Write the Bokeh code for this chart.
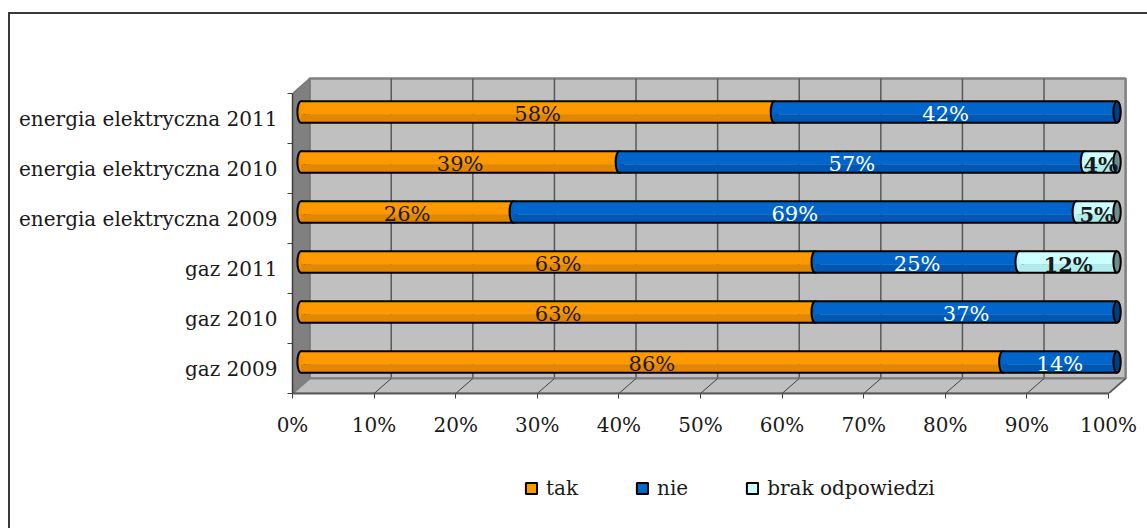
from bokeh.plotting import figure
from bokeh.layouts import column
from bokeh.models import Range1d, FixedTicker, Legend, LegendItem
from bokeh.embed import file_html
from bokeh.resources import INLINE
from bokeh.core.properties import value

# categories listed bottom-up
categories = ["gaz 2009", "gaz 2010", "gaz 2011",
              "energia elektryczna 2009", "energia elektryczna 2010",
              "energia elektryczna 2011"]
tak = [86, 63, 63, 26, 39, 58]
nie = [14, 37, 25, 69, 57, 42]
brak = [0, 0, 12, 5, 4, 0]
series_names = ["tak", "nie", "brak odpowiedzi"]
x_ticks = [0, 10, 20, 30, 40, 50, 60, 70, 80, 90, 100]
x_tick_labels = ["0%", "10%", "20%", "30%", "40%", "50%", "60%", "70%", "80%", "90%", "100%"]

FONT = "DejaVu Serif"
# pseudo-3D depth of the chart box (x in %, y in category units)
DX, DY = 2.1, 0.3
HX, HY = DX / 2, 0.13      # bars sit half way into the box
BH = 0.43                  # bar thickness
EW = 0.9                   # width of the elliptic bar ends

light = ["#FF9900", "#0066CC", "#CCFFFF"]
dark = ["#E38600", "#0058B4", "#B0ECEC"]
mid = ["#F59200", "#0061C2", "#C0F6F6"]
caps = ["#B86E00", "#003F7F", "#6C8C8C"]
label_colors = ["#1a1a1a", "#FFFFFF", "#1a1a1a"]
label_styles = ["normal", "normal", "bold"]

W = 1137
p = figure(width=W, height=441,
           x_range=Range1d(0, 104.78), y_range=Range1d(-0.5, 7.04),
           output_backend="svg", toolbar_location=None,
           min_border_left=282, min_border_right=0,
           min_border_top=2, min_border_bottom=62,
           background_fill_color="white", border_fill_color="white",
           outline_line_color=None)
p.xgrid.visible = False
p.ygrid.visible = False

# back wall, side wall and floor
n = len(categories)
y_lo, y_hi = -0.5, n - 0.5
p.quad(left=DX, right=100 + DX, bottom=y_lo + DY, top=y_hi + DY,
       fill_color="#C0C0C0", line_color="#808080", line_width=2.5)
p.segment(x0=[t + DX for t in x_ticks[1:-1]], y0=y_lo + DY,
          x1=[t + DX for t in x_ticks[1:-1]], y1=y_hi + DY,
          line_color="#5a5a5a", line_width=1.5)
p.patch([0, DX, DX, 0], [y_lo, y_lo + DY, y_hi + DY, y_hi],
        fill_color="#808080", line_color="#777777", line_width=1.5)
p.patch([0, 100, 100 + DX, DX], [y_lo, y_lo, y_lo + DY, y_lo + DY],
        fill_color="#C0C0C0", line_color="#808080", line_width=2)
p.segment(x0=x_ticks[1:], y0=y_lo, x1=[t + DX for t in x_ticks[1:]], y1=y_lo + DY,
          line_color="#404040", line_width=1)

# stacked cylinders
by = [i + HY for i in range(n)]
starts = [0] * n
last = [0] * n
segs = []
for k, vals in enumerate([tak, nie, brak]):
    idx = [i for i in range(n) if vals[i] > 0]
    left = [starts[i] + HX for i in idx]
    right = [starts[i] + vals[i] + HX for i in idx]
    yy = [by[i] for i in idx]
    p.ellipse(x=left, y=yy, width=EW, height=BH, fill_color=mid[k],
              line_color="black", line_width=2)
    p.quad(left=left, right=right, top=[y + BH / 2 for y in yy],
           bottom=[y - BH * 0.1 for y in yy], fill_color=light[k], line_color=None)
    p.quad(left=left, right=right, top=[y - BH * 0.1 for y in yy],
           bottom=[y - BH / 2 for y in yy], fill_color=dark[k], line_color=None)
    segs.append((k, idx, [(l + r) / 2 for l, r in zip(left, right)], yy, [vals[i] for i in idx]))
    for i in idx:
        starts[i] += vals[i]
        last[i] = k

p.segment(x0=HX, y0=[y + BH / 2 for y in by], x1=100 + HX, y1=[y + BH / 2 for y in by],
          line_color="black", line_width=2)
p.segment(x0=HX, y0=[y - BH / 2 for y in by], x1=100 + HX, y1=[y - BH / 2 for y in by],
          line_color="black", line_width=2)
p.ellipse(x=[s + HX for s in starts], y=by, width=EW, height=BH,
          fill_color=[caps[k] for k in last], line_color="black", line_width=2)

for k, idx, xs, yy, vals in segs:
    p.text(x=xs, y=[y - 0.04 for y in yy], text=[f"{v}%" for v in vals],
           text_font=value(FONT), text_font_size="21px",
           text_font_style=label_styles[k], text_color=label_colors[k],
           text_align="center", text_baseline="middle")

# axes
p.yaxis.ticker = FixedTicker(ticks=list(range(n)),
                             minor_ticks=[i - 0.5 for i in range(n + 1)])
p.yaxis.major_label_overrides = {i: c for i, c in enumerate(categories)}
p.yaxis.bounds = (y_lo, y_hi)
p.yaxis.major_tick_out = 0
p.yaxis.major_tick_in = 0
p.yaxis.minor_tick_out = 5
p.yaxis.minor_tick_in = 0
p.yaxis.minor_tick_line_color = "#404040"
p.yaxis.axis_line_color = "#404040"
p.yaxis.axis_line_width = 1.5
p.yaxis.major_label_standoff = 10
p.yaxis.major_label_text_font = FONT
p.yaxis.major_label_text_font_size = "20px"
p.yaxis.major_label_text_color = "#1a1a1a"

p.xaxis.ticker = FixedTicker(ticks=x_ticks, minor_ticks=[])
p.xaxis.major_label_overrides = {t: s for t, s in zip(x_ticks, x_tick_labels)}
p.xaxis.bounds = (0, 100)
p.xaxis.major_tick_out = 5
p.xaxis.major_tick_in = 0
p.xaxis.major_tick_line_color = "#404040"
p.xaxis.axis_line_color = "#5a5a5a"
p.xaxis.axis_line_width = 2
p.xaxis.major_label_standoff = 14
p.xaxis.major_label_text_font = FONT
p.xaxis.major_label_text_font_size = "20px"
p.xaxis.major_label_text_color = "#1a1a1a"

# legend strip under the chart (its frame lines up with the chart frame)
LH = 73
q = figure(width=W, height=LH, x_range=Range1d(0, 100), y_range=Range1d(0, LH),
           output_backend="svg", toolbar_location=None,
           x_axis_type=None, y_axis_type=None,
           min_border=0, outline_line_color=None,
           background_fill_color="white", border_fill_color="white")
q.xgrid.visible = False
q.ygrid.visible = False
items = []
for k, name in enumerate(series_names):
    r = q.quad(left=[-20], right=[-10], top=[-10], bottom=[-20], fill_color=light[k],
               line_color="black", line_width=2)
    items.append(LegendItem(label=name, renderers=[r]))
legend = Legend(items=items, location=(232, 28), orientation="horizontal",
                glyph_width=14, glyph_height=14, label_standoff=8, spacing=57,
                padding=0, margin=0, border_line_color=None, background_fill_alpha=0,
                label_text_font=FONT, label_text_font_size="20px",
                label_text_color="#1a1a1a")
q.add_layout(legend)

page = column(p, q, spacing=0)
page.margin = (12, 0, 0, 8)
page.styles = {"border-left": "2px solid #3a3a3a", "border-top": "2px solid #3a3a3a"}

open("out.html", "w").write(file_html(page, INLINE))
